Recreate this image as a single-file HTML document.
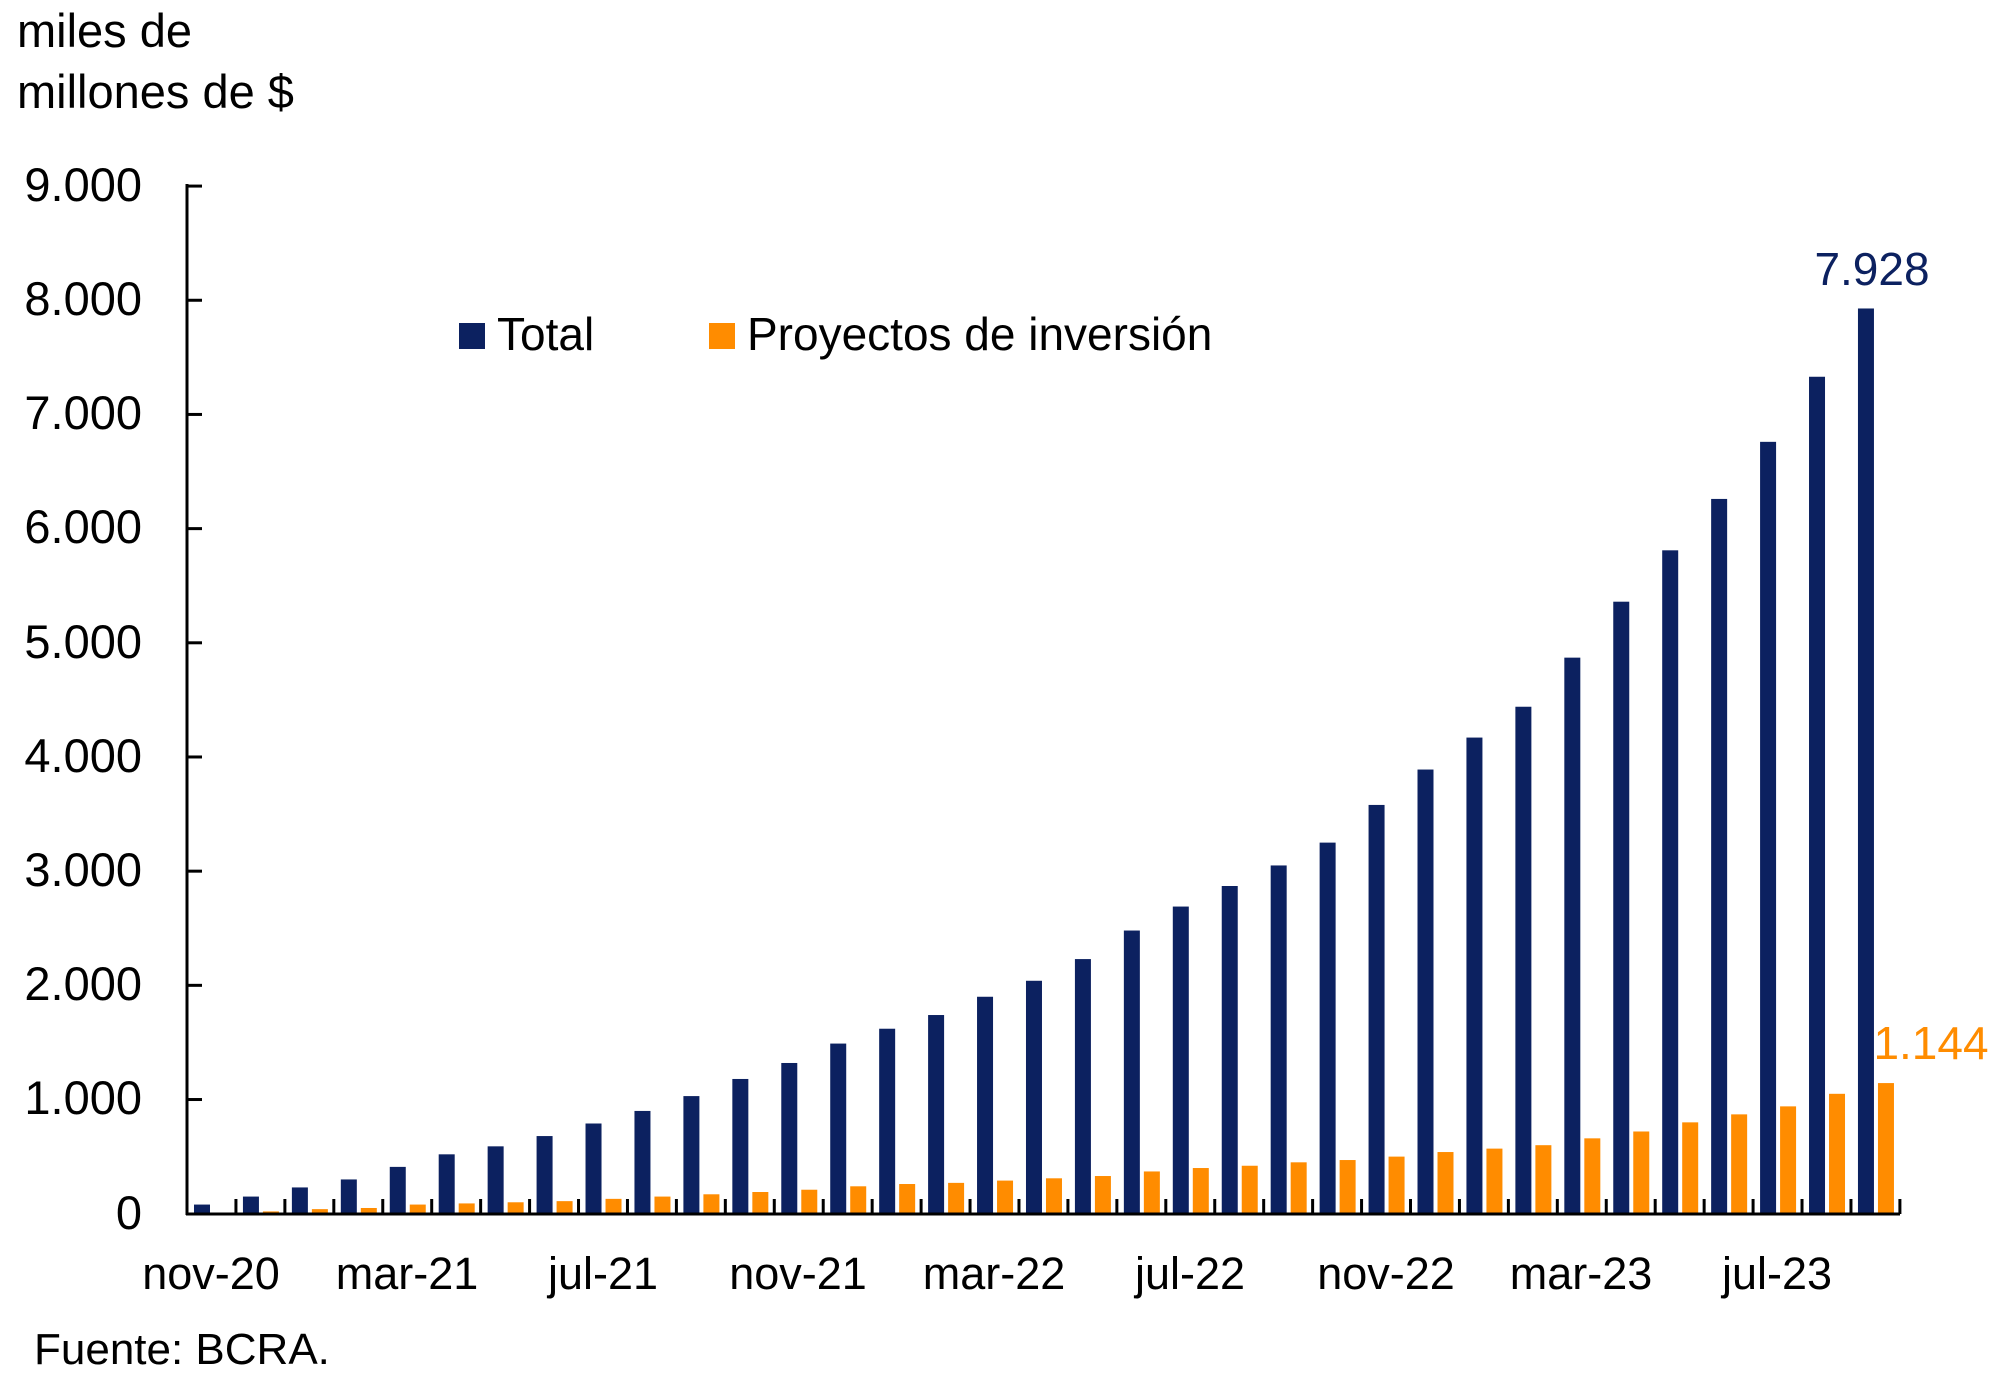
<!DOCTYPE html>
<html><head><meta charset="utf-8"><style>
html,body{margin:0;padding:0;background:#fff;}
svg{display:block;font-family:"Liberation Sans",sans-serif;}
</style></head><body>
<svg id="c" width="2000" height="1387" viewBox="0 0 2000 1387" xmlns="http://www.w3.org/2000/svg">
<rect width="2000" height="1387" fill="#fff"/>
<text x="17" y="47" font-size="47" fill="#000">miles de</text>
<text x="17" y="108" font-size="47" fill="#000">millones de $</text>
<g font-size="47" fill="#000" text-anchor="end">
<text x="142" y="201">9.000</text>
<text x="142" y="315">8.000</text>
<text x="142" y="429">7.000</text>
<text x="142" y="543">6.000</text>
<text x="142" y="658">5.000</text>
<text x="142" y="772">4.000</text>
<text x="142" y="886">3.000</text>
<text x="142" y="1000">2.000</text>
<text x="142" y="1114">1.000</text>
<text x="142" y="1229">0</text>
</g>
<g font-size="45" fill="#000" text-anchor="middle">
<text x="211" y="1289">nov-20</text>
<text x="407" y="1289">mar-21</text>
<text x="603" y="1289">jul-21</text>
<text x="798" y="1289">nov-21</text>
<text x="994" y="1289">mar-22</text>
<text x="1190" y="1289">jul-22</text>
<text x="1386" y="1289">nov-22</text>
<text x="1581" y="1289">mar-23</text>
<text x="1777" y="1289">jul-23</text>
</g>
<text x="34" y="1364" font-size="44" fill="#000">Fuente: BCRA.</text>
<rect x="459" y="323" width="26" height="26" fill="#0c2160"/>
<text x="497" y="350" font-size="46" fill="#000">Total</text>
<rect x="709" y="323" width="26" height="26" fill="#ff8c00"/>
<text x="747" y="350" font-size="46" fill="#000">Proyectos de inversión</text>
<text x="1872" y="285" font-size="46" fill="#0c2160" text-anchor="middle">7.928</text>
<text x="1931" y="1059" font-size="46" fill="#ff8c00" text-anchor="middle">1.144</text>
<g id="bars"></g>
<g stroke="#000" stroke-width="3" fill="none" id="axes">
<line x1="187" y1="184" x2="187" y2="1215"/>
<line x1="186" y1="1214" x2="1900" y2="1214"/>
</g>
</svg>
<script>
var T=[80,150,230,300,410,520,590,680,790,900,1030,1180,1320,1490,1620,1740,1900,2040,2230,2480,2690,2870,3050,3250,3580,3890,4170,4440,4870,5360,5810,6260,6760,7330,7928];
var O=[0,20,40,50,80,90,100,110,130,150,170,190,210,240,260,270,290,310,330,370,400,420,450,470,500,540,570,600,660,720,800,870,940,1050,1144];
var ns="http://www.w3.org/2000/svg",g=document.getElementById('bars'),ax=document.getElementById('axes');
var x0=187,w=48.94,y0=1213.7,k=0.11418;
function r(x,h,c){if(h<=0)return;var e=document.createElementNS(ns,'rect');e.setAttribute('x',x);e.setAttribute('y',y0-h);e.setAttribute('width',16);e.setAttribute('height',h);e.setAttribute('fill',c);g.appendChild(e);}
function l(a,b,c,d){var e=document.createElementNS(ns,'line');e.setAttribute('x1',a);e.setAttribute('y1',b);e.setAttribute('x2',c);e.setAttribute('y2',d);ax.appendChild(e);}
for(var i=0;i<35;i++){var x=x0+i*w;r(x+7,T[i]*k,'#0c2160');r(x+27,O[i]*k,'#ff8c00');if(i>0)l(x,1199,x,1214);}
l(x0+35*w,1199,x0+35*w,1214);
for(var j=1;j<=9;j++){var y=y0-j*1000*k;l(187,y,202,y);}
</script>
</body></html>
